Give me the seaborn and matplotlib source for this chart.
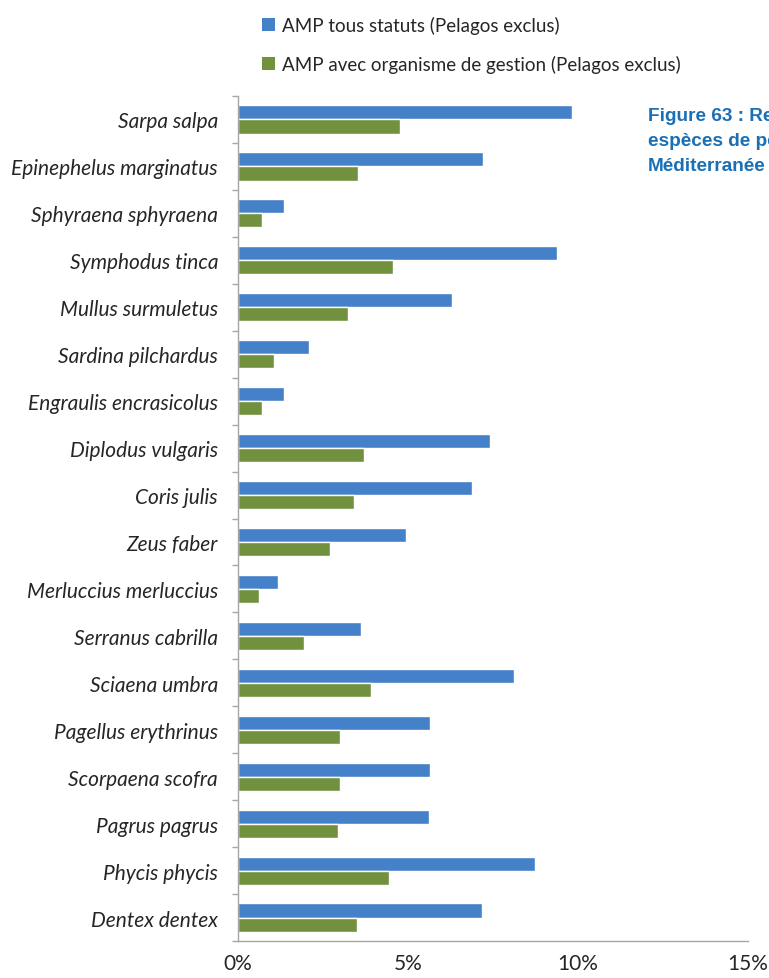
import numpy as np
import pandas as pd
import matplotlib
matplotlib.use("Agg")
import matplotlib.pyplot as plt
from matplotlib.patches import Patch
import seaborn as sns

species = ["Sarpa salpa", "Epinephelus marginatus", "Sphyraena sphyraena", "Symphodus tinca",
           "Mullus surmuletus", "Sardina pilchardus", "Engraulis encrasicolus", "Diplodus vulgaris",
           "Coris julis", "Zeus faber", "Merluccius merluccius", "Serranus cabrilla",
           "Sciaena umbra", "Pagellus erythrinus", "Scorpaena scofra", "Pagrus pagrus",
           "Phycis phycis", "Dentex dentex"]
tous_statuts = [9.82, 7.20, 1.35, 9.38, 6.29, 2.09, 1.35, 7.41, 6.88, 4.94, 1.18, 3.62,
                8.12, 5.65, 5.65, 5.62, 8.74, 7.18]
avec_gestion = [4.76, 3.53, 0.70, 4.56, 3.24, 1.06, 0.70, 3.71, 3.41, 2.71, 0.62, 1.94,
                3.91, 3.00, 3.00, 2.94, 4.44, 3.50]
series_names = ["AMP tous statuts (Pelagos exclus)", "AMP avec organisme de gestion (Pelagos exclus)"]
x_ticks = [0, 5, 10, 15]
x_tick_labels = ["0%", "5%", "10%", "15%"]

colors = ["#4481C8", "#71913F"]

df = pd.DataFrame({
    "species": species * 2,
    "value": tous_statuts + avec_gestion,
    "series": [series_names[0]] * len(species) + [series_names[1]] * len(species),
})

sns.set_style("white")
plt.rcParams["font.family"] = ["Lato", "DejaVu Sans"]

W, H = 769, 979
fig = plt.figure(figsize=(W / 100, H / 100), dpi=100)
ax = fig.add_axes([238 / W, (H - 942) / H, (748 - 238) / W, (942 - 97) / H])

sns.barplot(data=df, y="species", x="value", hue="series", order=species,
            hue_order=series_names, palette=colors, orient="h", width=0.6,
            saturation=1, legend=False, ax=ax, errorbar=None)

ax.set_xlim(0, 15)
ax.set_ylim(len(species) - 0.5, -0.5)
ax.set_xlabel("")
ax.set_ylabel("")

ax.set_xticks(x_ticks)
ax.set_xticklabels(x_tick_labels, fontsize=15, color="#262626")
ax.tick_params(axis="x", length=4, width=1, color="#A6A6A6", direction="out", pad=5)

ax.set_yticks(np.arange(-0.5, len(species), 1.0))
ax.set_yticklabels([])
ax.set_yticks(np.arange(len(species)), minor=True)
ax.set_yticklabels(species, minor=True, fontsize=15, style="italic", color="#262626")
ax.tick_params(axis="y", which="major", length=4, width=1, color="#A6A6A6", direction="out", left=True)
ax.tick_params(axis="y", which="minor", length=0, pad=14.4)

for s in ["top", "right"]:
    ax.spines[s].set_visible(False)
for s in ["left", "bottom"]:
    ax.spines[s].set_color("#A6A6A6")
    ax.spines[s].set_linewidth(1)

handles = [Patch(facecolor=c, edgecolor="none") for c in colors]
fig.legend(handles, series_names, loc="upper left", bbox_to_anchor=(245 / W, 1 - 0 / H),
           frameon=False, fontsize=13.5, handlelength=0.7, handleheight=0.7,
           handletextpad=0.4, labelspacing=1.1, labelcolor="#262626")

for i, t in enumerate(["Figure 63 : Re", "espèces de po", "Méditerranée"]):
    fig.text(648 / W, 1 - (121 + 25 * i) / H, t, fontsize=13.7, fontweight="bold",
             color="#1A6FB5", family=["Liberation Sans", "DejaVu Sans"], va="baseline")

fig.savefig("out.png", dpi=100)
